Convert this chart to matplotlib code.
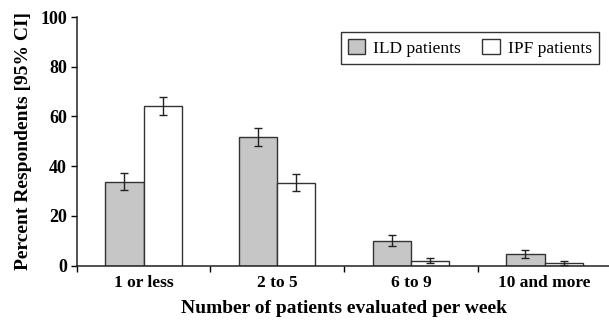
import matplotlib
matplotlib.use("Agg")
import matplotlib.pyplot as plt
import numpy as np

categories = ['1 or less', '2 to 5', '6 to 9', '10 and more']
ild = [33.8, 51.7, 10.1, 4.5]
ild_err = [3.5, 3.5, 2.1, 1.6]
ipf = [64.3, 33.4, 1.9, 1.0]
ipf_err = [3.6, 3.5, 1.0, 0.9]
yticks = [0, 20, 40, 60, 80, 100]

plt.rcParams['font.family'] = ['Liberation Serif', 'DejaVu Serif']

fig = plt.figure(figsize=(6.09, 3.22), dpi=100)
ax = fig.add_axes([0.126, 0.175, 0.878, 0.772])

x = np.arange(len(categories))
w = 0.286
ekw = dict(elinewidth=1.0, capthick=1.0, ecolor='#222222')
ax.bar(x - w/2, ild, w, yerr=ild_err, capsize=3, color='#c6c6c6',
       edgecolor='#333333', linewidth=1.0, label='ILD patients', error_kw=ekw)
ax.bar(x + w/2, ipf, w, yerr=ipf_err, capsize=3, color='white',
       edgecolor='#333333', linewidth=1.0, label='IPF patients', error_kw=ekw)

ax.set_xlim(-0.5, 3.5)
ax.set_ylim(0, 100)
ax.set_yticks(yticks)
ax.set_yticklabels([str(v) for v in yticks], fontweight='bold', fontsize=13)
ax.set_xticks(np.arange(-0.5, 3.6, 1.0))
ax.set_xticklabels([])
ax.set_xticks(x, minor=True)
ax.set_xticklabels(categories, minor=True, fontweight='bold', fontsize=12.5)
ax.tick_params(axis='x', which='minor', length=0, pad=7)
ax.tick_params(axis='x', which='major', length=4, width=1, direction='out')
ax.tick_params(axis='y', length=4, width=1, direction='out', pad=3)

for s in ['top', 'right']:
    ax.spines[s].set_visible(False)
for s in ['left', 'bottom']:
    ax.spines[s].set_linewidth(1.1)
    ax.spines[s].set_color('#222222')

ax.set_xlabel('Number of patients evaluated per week', fontweight='bold',
              fontsize=14, labelpad=6)
ax.set_ylabel('Percent Respondents [95% CI]', fontweight='bold',
              fontsize=14, labelpad=6)

leg = ax.legend(loc='upper right', bbox_to_anchor=(0.976, 0.94), ncol=2,
                frameon=True, fancybox=False, fontsize=12.5,
                handlelength=1.0, handleheight=1.0, columnspacing=1.25,
                handletextpad=0.45, borderpad=0.4, borderaxespad=0)
leg.get_frame().set_edgecolor('black')
leg.get_frame().set_linewidth(1.0)

plt.savefig('out.png', dpi=100)
